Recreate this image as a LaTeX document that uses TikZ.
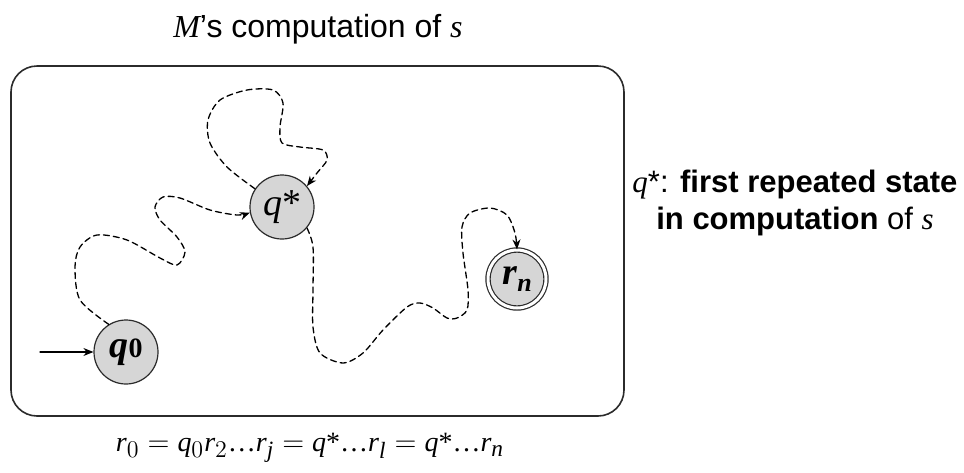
\documentclass[tikz,border=0pt]{standalone}
\usepackage{amsmath}
\usepackage{fontspec}
\setmainfont{Liberation Serif}
\setsansfont{Liberation Sans}
\usepackage[italic]{mathastext}
\usetikzlibrary{arrows.meta}
\definecolor{stInk}{HTML}{2B2B2B}
\definecolor{stFill}{HTML}{D6D6D6}
\tikzset{
 run/.style={line cap=round,line join=round,text=black},
 state/.style={circle,draw=stInk,fill=stFill,line width=.6pt,inner sep=0pt,minimum size=32pt,font=\fontsize{19}{22}\selectfont},
 accept/.style={state,double=white,double distance=1.5pt,minimum size=29pt},
 frame/.style={draw=stInk,line width=.8pt,rounded corners=13pt},
 start/.style={draw=black,line width=.6pt,-{Stealth[length=5pt,width=4pt]}},
 walk/.style={draw=black,line width=.65pt,dash pattern=on 3pt off 2pt,-{Stealth[length=5pt,width=4pt]}},
 caption/.style={font=\sffamily\fontsize{16}{18}\selectfont,inner sep=0pt},
 note/.style={font=\sffamily\fontsize{15.5}{18.5}\selectfont,align=center,inner sep=0pt}
}
\begin{document}
\begin{tikzpicture}[run,x=.5pt,y=-.5pt]
 \useasboundingbox (0,0) rectangle (964,472);
 \draw[frame] (11,66) rectangle (624,416);
 \node[caption] (title) at (318,29) {$M$'s computation of $s$};
 % states
 \node[state] (q0) at (126,352) {\textbf{\textit{q}{\fontsize{14}{14}\selectfont 0}}};
 \node[state] (qs) at (282,207) {$q$*};
 \node[accept] (rn) at (517,279) {\textbf{\textit{r}\raisebox{-3.5pt}{\fontsize{13}{13}\selectfont\itshape n}}};
 \coordinate (in) at (40,352);
 \draw[start] (in) -- (q0);
 % walks of the run
 \draw[walk] plot[smooth] coordinates {(q0.122) (80,300) (75,267) (80,247) (97,235) (127,240)
   (160,258) (177,265) (185,252) (177,237) (160,220) (155,207) (163,197) (180,198) (210,210)
   (237,215) (qs.190)};
 \draw[walk] plot[smooth] coordinates {(qs.146) (227,167) (210,143) (208,120) (220,100) (247,90)
   (273,90) (283,103) (280,127) (282,143) (300,147) (323,150) (327,160) (317,173) (qs.40)};
 \draw[walk] plot[smooth] coordinates {(qs.-40) (313,247) (313,290) (313,327) (320,353) (343,363)
   (363,353) (383,330) (407,307) (420,303) (433,308) (447,318) (457,318) (467,310) (468,290)
   (463,253) (462,227) (470,213) (490,208) (507,215) (515,233) (rn.north)};
 \node[note] (def) at (795,203) {$q$*: \textbf{first repeated state}\\\textbf{in computation} of $s$};
 \node[caption,font=\rmfamily\fontsize{14}{17}\selectfont] (seq) at (310,448)
   {$r_0 = q_0r_2$…$r_j = q$*…$r_l = q$*…$r_n$};
\end{tikzpicture}
\end{document}
